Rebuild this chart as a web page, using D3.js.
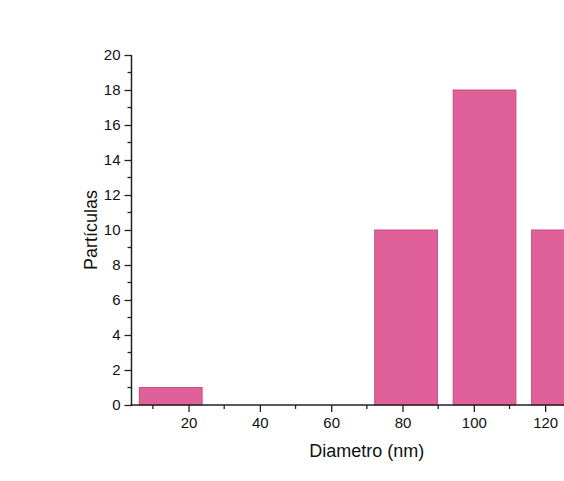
<!DOCTYPE html>
<html>
<head>
<meta charset="utf-8">
<script src="https://cdn.jsdelivr.net/npm/d3@7/dist/d3.min.js"></script>
<style>
  html, body { margin: 0; padding: 0; background: #ffffff; }
  svg { display: block; }
  text { font-family: Arial, "Liberation Sans", sans-serif; fill: #111; }
</style>
</head>
<body>
<svg id="chart" width="564" height="481"></svg>
<script>
// Data
const binCenters = [15, 37, 59, 81, 103, 125];
const counts = [1, 0, 0, 10, 18, 10];
const binWidth = 22;
const xTicks = [20, 40, 60, 80, 100, 120];
const yTicks = [0, 2, 4, 6, 8, 10, 12, 14, 16, 18, 20];
const xTitle = "Diametro (nm)";
const yTitle = "Partículas";

const svg = d3.select("#chart");
const plotLeft = 131.5, plotTop = 55, plotBottom = 405;
const x = d3.scaleLinear().domain([4, 136]).range([plotLeft, plotLeft + 132 * 3.566]);
const y = d3.scaleLinear().domain([0, 20]).range([plotBottom, plotTop]);

// Bars
svg.append("g").selectAll("rect")
  .data(binCenters.map((c, i) => ({c, v: counts[i]})).filter(d => d.v > 0))
  .join("rect")
  .attr("x", d => x(d.c - binWidth * 0.4))
  .attr("width", d => x(d.c + binWidth * 0.4) - x(d.c - binWidth * 0.4))
  .attr("y", d => y(d.v))
  .attr("height", d => y(0) - y(d.v))
  .attr("fill", "#E0609A")
  .attr("stroke", "#C84E84")
  .attr("stroke-width", 1);

// Y axis
const yAxis = d3.axisLeft(y).tickValues(yTicks).tickSize(7).tickPadding(4).tickFormat(d3.format("d"));
const gy = svg.append("g").attr("transform", `translate(${plotLeft},0)`).call(yAxis);
gy.select(".domain").remove();
gy.selectAll(".tick line").attr("stroke", "#222").attr("stroke-width", 1.3);
gy.selectAll(".tick text").attr("font-size", 15).attr("fill", "#111");
// y minor ticks
svg.append("g").selectAll("line")
  .data(d3.range(1, 20, 2))
  .join("line")
  .attr("x1", plotLeft).attr("x2", plotLeft - 4)
  .attr("y1", d => y(d)).attr("y2", d => y(d))
  .attr("stroke", "#222").attr("stroke-width", 1.3);

// X axis
const xAxis = d3.axisBottom(x).tickValues(xTicks).tickSize(7).tickPadding(5).tickFormat(d3.format("d"));
const gx = svg.append("g").attr("transform", `translate(0,${plotBottom})`).call(xAxis);
gx.select(".domain").remove();
gx.selectAll(".tick line").attr("stroke", "#222").attr("stroke-width", 1.3);
gx.selectAll(".tick text").attr("font-size", 15).attr("fill", "#111");
// x minor ticks
svg.append("g").selectAll("line")
  .data([10, 30, 50, 70, 90, 110, 130])
  .join("line")
  .attr("x1", d => x(d)).attr("x2", d => x(d))
  .attr("y1", plotBottom).attr("y2", plotBottom + 4)
  .attr("stroke", "#222").attr("stroke-width", 1.3);

// axis lines
svg.append("line").attr("x1", plotLeft).attr("x2", plotLeft).attr("y1", plotTop).attr("y2", plotBottom + 0.7)
  .attr("stroke", "#222").attr("stroke-width", 1.5);
svg.append("line").attr("x1", plotLeft - 0.7).attr("x2", x(136)).attr("y1", plotBottom).attr("y2", plotBottom)
  .attr("stroke", "#222").attr("stroke-width", 1.5);

// Titles
svg.append("text")
  .attr("x", (x(4) + x(136)) / 2).attr("y", 457)
  .attr("text-anchor", "middle").attr("font-size", 18)
  .text(xTitle);
svg.append("text")
  .attr("transform", `translate(96.5,${(plotTop + plotBottom) / 2}) rotate(-90)`)
  .attr("text-anchor", "middle").attr("font-size", 18)
  .text(yTitle);
</script>
</body>
</html>
